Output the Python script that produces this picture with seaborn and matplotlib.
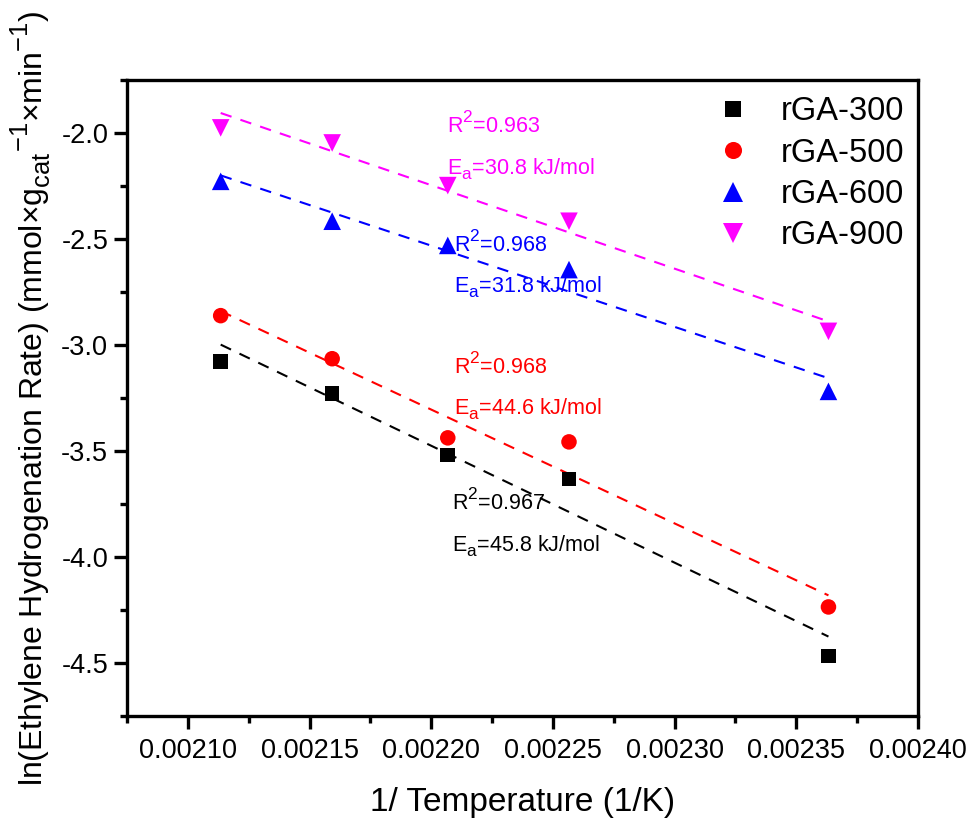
import matplotlib
matplotlib.use("Agg")
import matplotlib.pyplot as plt
import numpy as np
import pandas as pd
import seaborn as sns
from matplotlib.ticker import MultipleLocator, FormatStrFormatter
import matplotlib._mathtext as _mt

# Arrhenius data: ln(rate) vs 1/T for four catalysts
inv_temperature = [0.0021135, 0.0021593, 0.0022068, 0.0022566, 0.0023632]
samples = ["rGA-300", "rGA-500", "rGA-600", "rGA-900"]
ln_rate_300 = [-3.080, -3.231, -3.519, -3.632, -4.467]
ln_rate_500 = [-2.863, -3.066, -3.439, -3.458, -4.236]
ln_rate_600 = [-2.230, -2.418, -2.532, -2.646, -3.220]
ln_rate_900 = [-1.978, -2.049, -2.250, -2.418, -2.937]
r_squared = ["0.967", "0.968", "0.968", "0.963"]
activation_energy = ["45.8", "44.6", "31.8", "30.8"]

colors = {"rGA-300": "black", "rGA-500": "#FF0000",
          "rGA-600": "#0000FF", "rGA-900": "#FF00FF"}
marker_map = {"rGA-300": "s", "rGA-500": "o", "rGA-600": "^", "rGA-900": "v"}
size_map = {"rGA-300": 110, "rGA-500": 125, "rGA-600": 160, "rGA-900": 160}

series = [ln_rate_300, ln_rate_500, ln_rate_600, ln_rate_900]
df = pd.concat(
    [pd.DataFrame({"inv_T": inv_temperature, "ln_rate": vals, "sample": name})
     for name, vals in zip(samples, series)],
    ignore_index=True,
)

sns.set_style("ticks")
plt.rcParams["font.family"] = ["Liberation Sans", "DejaVu Sans"]
plt.rcParams["mathtext.fontset"] = "custom"
plt.rcParams["mathtext.rm"] = "Liberation Sans"
plt.rcParams["mathtext.it"] = "Liberation Sans:italic"
plt.rcParams["mathtext.default"] = "regular"
for key in ["text.color", "axes.labelcolor", "xtick.color", "ytick.color",
            "axes.edgecolor"]:
    plt.rcParams[key] = "black"

# larger, higher-set scripts for sub/superscripts
if hasattr(_mt, "SHRINK_FACTOR"):
    _mt.SHRINK_FACTOR = 0.8
if hasattr(_mt, "FontConstantsBase"):
    _mt.FontConstantsBase.sup1 = 0.85
    _mt.FontConstantsBase.sub1 = 0.45
    _mt.FontConstantsBase.sub2 = 0.6

fig = plt.figure(figsize=(9.73, 8.18), dpi=100)
ax = fig.add_axes([0.1305, 0.1247, 0.8130, 0.7781])

# dashed linear fits over the measured range
for name in samples:
    sub = df[df["sample"] == name]
    sns.regplot(data=sub, x="inv_T", y="ln_rate", scatter=False, ci=None,
                color=colors[name], ax=ax,
                line_kws=dict(linestyle=(0, (5.5, 4.5)), linewidth=1.5))

sns.scatterplot(data=df, x="inv_T", y="ln_rate", hue="sample", style="sample",
                size="sample", hue_order=samples, style_order=samples,
                size_order=samples, palette=colors, markers=marker_map,
                sizes=size_map, linewidth=0, ax=ax, zorder=3)

# fit statistics next to each line: (x, baseline of R², baseline of Ea)
label_x = [0.0022087, 0.0022093, 0.0022093, 0.0022066]
label_y_r2 = [-3.778, -3.138, -2.563, -2.001]
label_y_ea = [-3.975, -3.330, -2.756, -2.198]
for i, name in enumerate(samples):
    ax.text(label_x[i], label_y_r2[i], "R$^{2}$=" + r_squared[i],
            color=colors[name], fontsize=15.5, va="baseline", ha="left")
    ax.text(label_x[i], label_y_ea[i],
            "E$_{a}$=" + activation_energy[i] + " kJ/mol",
            color=colors[name], fontsize=15.5, va="baseline", ha="left")

ax.set_xlim(0.002075, 0.0024)
ax.set_ylim(-4.75, -1.75)
ax.xaxis.set_major_locator(MultipleLocator(0.00005))
ax.xaxis.set_minor_locator(MultipleLocator(0.000025))
ax.xaxis.set_major_formatter(FormatStrFormatter("%.5f"))
ax.yaxis.set_major_locator(MultipleLocator(0.5))
ax.yaxis.set_minor_locator(MultipleLocator(0.25))
ax.yaxis.set_major_formatter(FormatStrFormatter("%.1f"))

for sp in ax.spines.values():
    sp.set_linewidth(2.4)
    sp.set_color("black")
ax.tick_params(which="major", direction="out", length=9.5, width=2.4,
               labelsize=19.5, colors="black", top=False, right=False)
ax.tick_params(which="minor", direction="out", length=5, width=2.4,
               colors="black", top=False, right=False)
ax.tick_params(axis="x", which="major", pad=6)
ax.tick_params(axis="y", which="major", pad=4)

ax.set_xlabel("1/ Temperature (1/K)", fontsize=24, labelpad=17, color="black")
ylab = ax.set_ylabel("ln(Ethylene Hydrogenation Rate) "
                     "(mmol×g$_{cat}$$^{-1}$×min$^{-1}$)", fontsize=23,
                     labelpad=6, color="black")
ylab.set_y(0.5)

sns.move_legend(ax, "upper left", bbox_to_anchor=(0.688, 1.02), frameon=False,
                fontsize=23.5, title="", handletextpad=0.45,
                labelspacing=0.32, borderpad=0.4, markerscale=1.1)
for t in ax.get_legend().get_texts():
    t.set_color("black")

fig.savefig("out.png", dpi=100)
